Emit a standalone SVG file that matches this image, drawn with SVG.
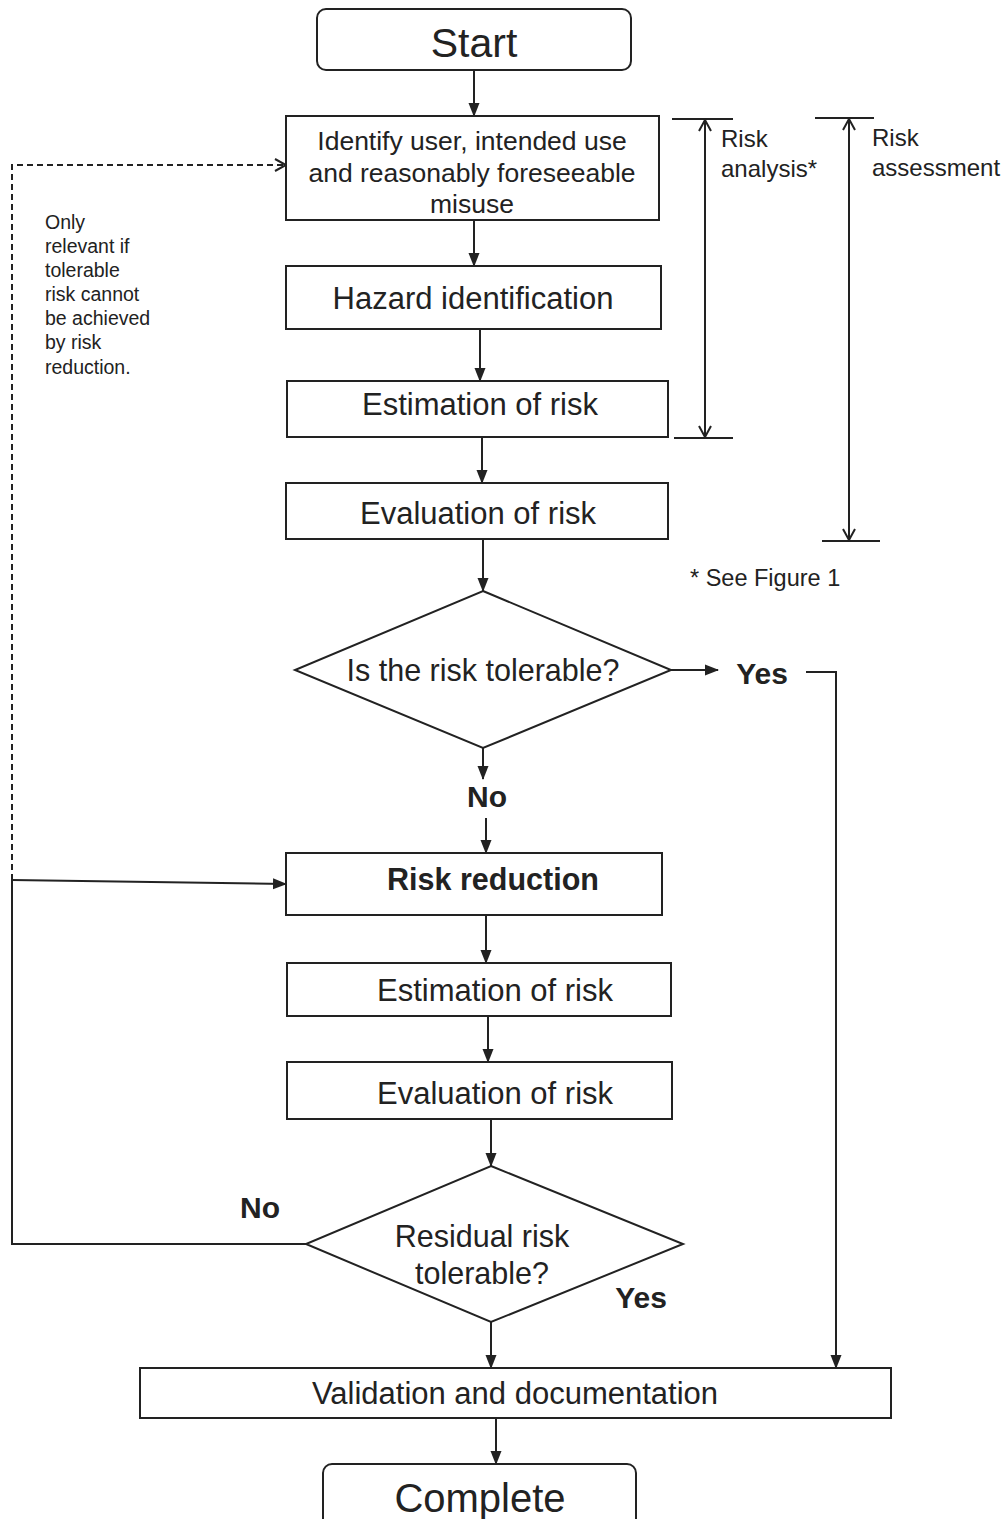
<svg xmlns="http://www.w3.org/2000/svg" width="1008" height="1519" viewBox="0 0 1008 1519">
<style>
.box{fill:#fff;stroke:#222;stroke-width:2}
.ln{fill:none;stroke:#222;stroke-width:2}
.dash{fill:none;stroke:#222;stroke-width:2;stroke-dasharray:6,4}
.t{font-family:"Liberation Sans",Arial,sans-serif;fill:#222;text-anchor:middle}
.b{font-weight:bold}
.l{font-family:"Liberation Sans",Arial,sans-serif;fill:#222}
</style>
<defs>
<marker id="ah" markerWidth="14" markerHeight="12" refX="13" refY="6" orient="auto" markerUnits="userSpaceOnUse"><path d="M0,0.5 L14,6 L0,11.5 Z" fill="#222"/></marker>
<marker id="oa" markerWidth="14" markerHeight="14" refX="12" refY="7" orient="auto" markerUnits="userSpaceOnUse"><path d="M1,1 L12,7 L1,13" fill="none" stroke="#222" stroke-width="2"/></marker>
<marker id="oas" markerWidth="14" markerHeight="14" refX="12" refY="7" orient="auto-start-reverse" markerUnits="userSpaceOnUse"><path d="M1,1 L12,7 L1,13" fill="none" stroke="#222" stroke-width="2"/></marker>
</defs>
<rect width="1008" height="1519" fill="#fff"/>
<g id="connectors">
<line class="ln" x1="474" y1="70" x2="474" y2="116" marker-end="url(#ah)"/>
<line class="ln" x1="474" y1="220" x2="474" y2="266" marker-end="url(#ah)"/>
<line class="ln" x1="480" y1="329" x2="480" y2="381" marker-end="url(#ah)"/>
<line class="ln" x1="482" y1="437" x2="482" y2="483" marker-end="url(#ah)"/>
<line class="ln" x1="483" y1="539" x2="483" y2="591" marker-end="url(#ah)"/>
<line class="ln" x1="671" y1="670" x2="718" y2="670" marker-end="url(#ah)"/>
<polyline class="ln" points="806,672 836,672 836,1368" marker-end="url(#ah)"/>
<line class="ln" x1="483" y1="748" x2="483" y2="779" marker-end="url(#ah)"/>
<line class="ln" x1="486" y1="818" x2="486" y2="853" marker-end="url(#ah)"/>
<line class="ln" x1="486" y1="915" x2="486" y2="963" marker-end="url(#ah)"/>
<line class="ln" x1="488" y1="1016" x2="488" y2="1062" marker-end="url(#ah)"/>
<line class="ln" x1="491" y1="1119" x2="491" y2="1166" marker-end="url(#ah)"/>
<line class="ln" x1="491" y1="1322" x2="491" y2="1368" marker-end="url(#ah)"/>
<line class="ln" x1="496" y1="1418" x2="496" y2="1464" marker-end="url(#ah)"/>
<polyline class="ln" points="306,1244 12,1244 12,880"/>
<line class="ln" x1="12" y1="880" x2="286" y2="884" marker-end="url(#ah)"/>
<polyline class="dash" points="12,880 12,165 286,165" marker-end="url(#oa)"/>
<line class="ln" x1="672" y1="119" x2="733" y2="119"/>
<line class="ln" x1="674" y1="438" x2="733" y2="438"/>
<line class="ln" x1="705" y1="437" x2="705" y2="120" marker-start="url(#oas)" marker-end="url(#oas)"/>
<line class="ln" x1="815" y1="118" x2="874" y2="118"/>
<line class="ln" x1="822" y1="541" x2="880" y2="541"/>
<line class="ln" x1="849" y1="540" x2="849" y2="119" marker-start="url(#oas)" marker-end="url(#oas)"/>
</g>
<g id="start"><rect class="box" x="317" y="9" width="314" height="61" rx="9"/><text class="t" x="474" y="57" font-size="41">Start</text></g>
<g id="identify"><rect class="box" x="286" y="116" width="373" height="104"/>
<text class="t" x="472" y="150" font-size="26.5">Identify user, intended use</text>
<text class="t" x="472" y="182" font-size="26.5">and reasonably foreseeable</text>
<text class="t" x="472" y="213" font-size="26.5">misuse</text></g>
<g id="hazard"><rect class="box" x="286" y="266" width="375" height="63"/><text class="t" x="473" y="309" font-size="31">Hazard identification</text></g>
<g id="estimation1"><rect class="box" x="287" y="381" width="381" height="56"/><text class="t" x="480" y="415" font-size="31">Estimation of risk</text></g>
<g id="evaluation1"><rect class="box" x="286" y="483" width="382" height="56"/><text class="t" x="478" y="524" font-size="31">Evaluation of risk</text></g>
<g id="tolerable"><polygon class="box" points="483,591 671,670 483,748 295,670"/><text class="t" x="483" y="681" font-size="30.5">Is the risk tolerable?</text></g>
<g id="yes1"><text class="t b" x="762" y="684" font-size="30">Yes</text></g>
<g id="no1"><text class="t b" x="487" y="807" font-size="30">No</text></g>
<g id="reduction"><rect class="box" x="286" y="853" width="376" height="62"/><text class="t b" x="493" y="890" font-size="30.5">Risk reduction</text></g>
<g id="estimation2"><rect class="box" x="287" y="963" width="384" height="53"/><text class="t" x="495" y="1001" font-size="31">Estimation of risk</text></g>
<g id="evaluation2"><rect class="box" x="287" y="1062" width="385" height="57"/><text class="t" x="495" y="1104" font-size="31">Evaluation of risk</text></g>
<g id="residual"><polygon class="box" points="491,1166 683,1244 491,1322 306,1244"/>
<text class="t" x="482" y="1247" font-size="30.5">Residual risk</text>
<text class="t" x="482" y="1284" font-size="30.5">tolerable?</text></g>
<g id="no2"><text class="t b" x="260" y="1218" font-size="30">No</text></g>
<g id="yes2"><text class="t b" x="641" y="1308" font-size="30">Yes</text></g>
<g id="validation"><rect class="box" x="140" y="1368" width="751" height="50"/><text class="t" x="515" y="1404" font-size="31">Validation and documentation</text></g>
<g id="complete"><rect class="box" x="323" y="1464" width="313" height="70" rx="9"/><text class="t" x="480" y="1512" font-size="40">Complete</text></g>
<g id="risk-analysis"><text class="l" x="721" y="147" font-size="24">Risk</text><text class="l" x="721" y="177" font-size="24">analysis*</text></g>
<g id="risk-assessment"><text class="l" x="872" y="146" font-size="24">Risk</text><text class="l" x="872" y="176" font-size="24">assessment</text></g>
<g id="footnote"><text class="l" x="690" y="586" font-size="23.5">* See Figure 1</text></g>
<g id="note">
<text class="l" x="45" y="229" font-size="19.5">Only</text>
<text class="l" x="45" y="253" font-size="19.5">relevant  if</text>
<text class="l" x="45" y="277" font-size="19.5">tolerable</text>
<text class="l" x="45" y="301" font-size="19.5">risk cannot</text>
<text class="l" x="45" y="325" font-size="19.5">be achieved</text>
<text class="l" x="45" y="349" font-size="19.5">by risk</text>
<text class="l" x="45" y="374" font-size="19.5">reduction.</text>
</g>
</svg>
